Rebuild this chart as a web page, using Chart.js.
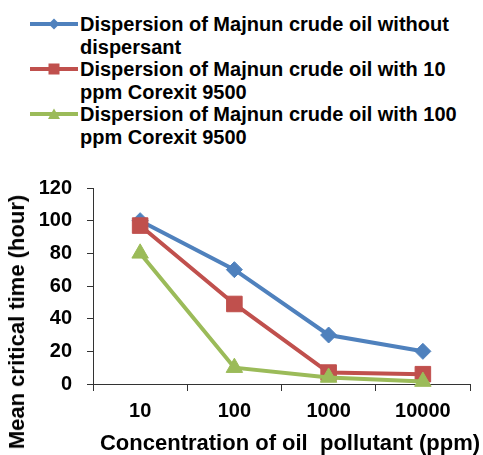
<!DOCTYPE html>
<html>
<head>
<meta charset="utf-8">
<script src="https://cdn.jsdelivr.net/npm/chart.js@4.4.1/dist/chart.umd.min.js"></script>
<style>
  html, body { margin: 0; padding: 0; background: #fff; }
  body {
    width: 483px; height: 455px; position: relative; overflow: hidden;
    font-family: "Liberation Sans", Arial, sans-serif; font-weight: bold; color: #000;
  }
  #chart-wrap { position: absolute; left: 0; top: 0; width: 483px; height: 455px; }
  #legend { position: absolute; left: 30px; top: 13px; font-size: 20px; line-height: 22.5px; }
  .item { display: flex; align-items: flex-start; }
  .item svg { flex: none; margin-right: 2px; }
  .item span { width: 390px; }
  .axis-title { position: absolute; font-size: 22px; white-space: pre; transform: translate(-50%, -50%); }
  #y-title { left: 17px; top: 322px; transform: translate(-50%, -50%) rotate(-90deg); }
  #x-title { left: 290px; top: 443px; }
</style>
</head>
<body>
<div id="legend"></div>
<div id="chart-wrap"><canvas id="chart"></canvas></div>
<div class="axis-title" id="y-title">Mean critical time (hour)</div>
<div class="axis-title" id="x-title">Concentration of oil  pollutant (ppm)</div>
<script>
const categories = ["10", "100", "1000", "10000"]
const seriesNames = [
  "Dispersion of Majnun crude oil without dispersant",
  "Dispersion of Majnun crude oil with 10 ppm Corexit 9500",
  "Dispersion of Majnun crude oil with 100 ppm Corexit 9500"
]
const withoutDispersant = [100, 70, 30, 20]
const corexit10 = [97, 49, 7, 6]
const corexit100 = [80, 10, 4, 1.5]
const yMin = 0
const yMax = 120
const yStep = 20

const fontFamily = "'Liberation Sans', Arial, sans-serif"
const axisColor = "#333333"
const colors = ["#4F81BD", "#C0504D", "#9BBB59"]
const pointStyles = ["rectRot", "rect", "triangle"]
const pointSizes = [8, 11, 9.5]

function makeDataset(i, values) {
  return {
    label: seriesNames[i],
    data: values,
    borderColor: colors[i],
    backgroundColor: colors[i],
    borderWidth: 4,
    pointStyle: pointStyles[i],
    pointRadius: pointSizes[i],
    pointHoverRadius: pointSizes[i],
    pointBackgroundColor: colors[i],
    pointBorderColor: colors[i],
    pointBorderWidth: 1,
    tension: 0,
    clip: false,
    order: 3 - i
  }
}

const chart = new Chart(document.getElementById("chart"), {
  type: "line",
  data: {
    labels: categories,
    datasets: [
      makeDataset(0, withoutDispersant),
      makeDataset(1, corexit10),
      makeDataset(2, corexit100)
    ]
  },
  options: {
    responsive: true,
    maintainAspectRatio: false,
    animation: false,
    events: [],
    layout: {
      padding: { top: 188, right: 13, left: 0, bottom: 0 }
    },
    plugins: {
      legend: { display: false },
      tooltip: { enabled: false }
    },
    scales: {
      x: {
        type: "category",
        offset: true,
        grid: {
          offset: true,
          drawOnChartArea: false,
          tickLength: 7,
          color: axisColor
        },
        border: { color: axisColor, width: 1 },
        ticks: {
          color: "#000",
          padding: 8,
          font: { family: fontFamily, size: 20, weight: "bold" }
        },
        afterFit(scale) {
          scale.height = 71
        }
      },
      y: {
        min: yMin,
        max: yMax,
        grid: {
          drawOnChartArea: false,
          tickLength: 6,
          color: axisColor
        },
        border: { color: axisColor, width: 1 },
        ticks: {
          stepSize: yStep,
          color: "#000",
          padding: 15,
          font: { family: fontFamily, size: 20, weight: "bold" }
        },
        afterFit(scale) {
          scale.width = 93
        }
      }
    }
  }
})

// legend as html so the long names wrap like the original
function swatch(style, color) {
  let marker = ""
  if (style === "rectRot") {
    marker = `<polygon points="24,5.5 29.5,11 24,16.5 18.5,11" fill="${color}"/>`
  } else if (style === "rect") {
    marker = `<rect x="18.5" y="5.5" width="11" height="11" fill="${color}"/>`
  } else {
    marker = `<polygon points="24,5.5 30,16 18,16" fill="${color}"/>`
  }
  return `<svg width="48" height="22" viewBox="0 0 48 22">` +
    `<line x1="0" y1="11" x2="48" y2="11" stroke="${color}" stroke-width="4"/>` + marker + `</svg>`
}

const legend = document.getElementById("legend")
chart.data.datasets.forEach((ds) => {
  const item = document.createElement("div")
  item.className = "item"
  item.innerHTML = swatch(ds.pointStyle, ds.borderColor) + `<span>${ds.label}</span>`
  legend.appendChild(item)
})
</script>
</body>
</html>
